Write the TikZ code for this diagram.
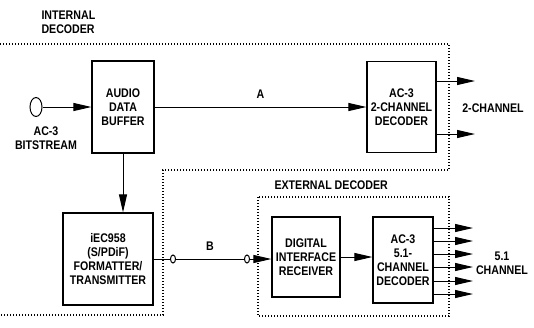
\documentclass[tikz,border=0pt]{standalone}
\usepackage{fontspec}
\setmainfont[FakeStretch=0.85]{Liberation Sans}
\usetikzlibrary{positioning, arrows.meta, shapes.geometric}
\tikzset{
    block/.style={draw=black, line width=1.2pt, align=center, inner sep=0pt},
    jack/.style={ellipse, draw=black, fill=white, line width=1pt, inner sep=0pt},
    region/.style={line width=1.2pt, dash pattern=on 1.2pt off 1.8pt},
    wire/.style={line width=1pt}
}

\begin{document}
\begin{tikzpicture}[x=1pt, y=-1pt, >={Triangle[length=18pt, width=8pt]},
    every node/.style={font=\fontsize{12.5}{14}\selectfont\bfseries}]
  \useasboundingbox (0,0) rectangle (534,327);

  % decoder regions
  \draw[region] (0,44) -- (449,44) -- (449,170) -- (163,170) -- (163,315) -- (0,315);
  \draw[region] (258,197) rectangle (449,316);
  \node[anchor=west, align=left] (intlbl) at (38,22) {INTERNAL\\DECODER};
  \node[anchor=west] (extlbl) at (271,185) {EXTERNAL DECODER};

  % blocks
  \node[jack, minimum width=12pt, minimum height=19pt] (in) at (36,107) {};
  \node[align=center] (inlbl) at (46,138) {AC-3\\BITSTREAM};
  \node[block, minimum width=62pt, minimum height=92pt] (buf) at (123,107) {AUDIO\\DATA\\BUFFER};
  \node[block, minimum width=69pt, minimum height=91pt] (dec2) at (401.5,107) {AC-3\\2-CHANNEL\\DECODER};
  \node[block, minimum width=90pt, minimum height=92pt] (iec) at (108,259) {iEC958\\(S/PDiF)\\FORMATTER/\\TRANSMITTER};
  \node[block, minimum width=68pt, minimum height=80pt] (rx) at (306,257) {DIGITAL\\INTERFACE\\RECEIVER};
  \node[block, minimum width=60pt, minimum height=86pt] (dec51) at (403,260) {AC-3\\5.1-\\CHANNEL\\DECODER};

  \node[jack, minimum width=5pt, minimum height=8pt] (b1) at (173,259) {};
  \node[jack, minimum width=5pt, minimum height=8pt] (b2) at (247,259) {};

  % connectors
  \draw[wire, ->] (in) -- (buf);
  \draw[wire, ->] (buf) -- node[above=5pt] (alab) {A} (dec2);
  \draw[wire, ->] (buf) -- (buf |- iec.north);
  \draw[wire] (iec.east |- b1) -- (b1);
  \draw[wire] (b1) -- node[above=5pt] (blab) {B} (b2);
  \draw[wire, ->] (b2) -- (b2 -| rx.west);
  \draw[wire, ->] (rx.east) -- (rx.east -| dec51.west);

  % outputs
  \foreach \i/\y in {1/81, 2/134} {
    \coordinate (t\i) at (475,\y);
    \draw[wire, ->] (dec2.east |- t\i) -- (t\i);
  }
  \node (twolbl) at (493,108) {2-CHANNEL};
  \foreach \i/\y in {1/228, 2/241, 3/254, 4/267, 5/281, 6/294} {
    \coordinate (s\i) at (473,\y);
    \draw[wire, ->] (dec51.east |- s\i) -- (s\i);
  }
  \node[align=center] (fivelbl) at (502,263) {5.1\\CHANNEL};
\end{tikzpicture}
\end{document}
